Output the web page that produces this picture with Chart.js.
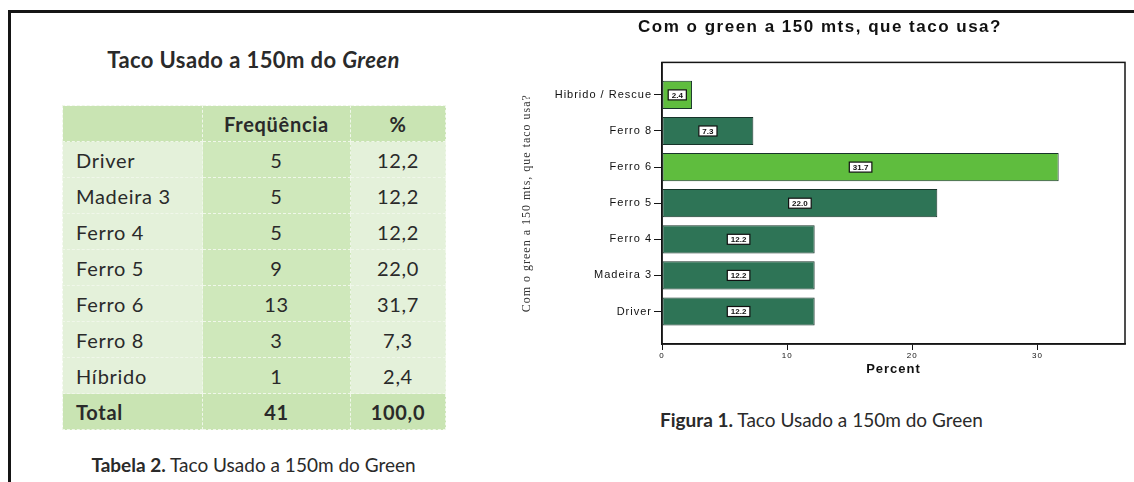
<!DOCTYPE html>
<html>
<head>
<meta charset="utf-8">
<script src="https://cdn.jsdelivr.net/npm/chart.js@4.4.1/dist/chart.umd.min.js"></script>
<style>
  body { margin: 0; width: 1134px; height: 482px; background: #fff; position: relative; overflow: hidden;
         font-family: Lato, "Open Sans", sans-serif; color: #2a2a2a; }
  #frame { position: absolute; left: 8px; top: 10px; right: 0; bottom: 0;
           border-top: 3px solid #151515; border-left: 3px solid #151515; }
  #tableTitle { position: absolute; left: 62px; width: 383px; top: 46px; text-align: center;
                font-size: 22px; font-weight: bold; line-height: 28px; letter-spacing: 0.4px; }
  table { position: absolute; left: 62px; top: 105px; width: 383px; border-collapse: collapse;
          font-size: 20px; letter-spacing: 0.7px; table-layout: fixed; }
  td { height: 35px; padding: 0; border: 1px dashed #f0f7ea; text-align: center; }
  td.lbl { text-align: left; padding-left: 13px; }
  tr.head td, tr.total td { background: #c9e4b3; font-weight: bold; }
  tr.row td { background: #e4f1da; }
  tr.row td.mid { background: #cfe8bb; }
  .caption { position: absolute; font-size: 19px; line-height: 24px; white-space: nowrap; }
  #chartBox { position: absolute; left: 515px; top: 0; width: 619px; height: 380px; }
</style>
</head>
<body>
<div id="frame"></div>
<div id="tableTitle">Taco Usado a 150m do <i>Green</i></div>
<table id="freqTable">
  <colgroup><col style="width:140px"><col style="width:148px"><col style="width:95px"></colgroup>
  <tbody></tbody>
</table>
<div class="caption" style="left:62px; width:383px; top:453px; text-align:center;"><b>Tabela 2.</b> Taco Usado a 150m do Green</div>
<div class="caption" style="left:660px; top:408px;"><b>Figura 1.</b> Taco Usado a 150m do Green</div>
<div id="chartBox"><canvas id="chart"></canvas></div>

<script>
const tableLabels = ["Driver", "Madeira 3", "Ferro 4", "Ferro 5", "Ferro 6", "Ferro 8", "Híbrido"];
const chartLabels = ["Driver", "Madeira 3", "Ferro 4", "Ferro 5", "Ferro 6", "Ferro 8", "Hibrido / Rescue"];
const frequencies = [5, 5, 5, 9, 13, 3, 1];
const percents = [12.2, 12.2, 12.2, 22.0, 31.7, 7.3, 2.4];
const totalFreq = 41;
const totalPct = 100.0;
const xTicks = [0, 10, 20, 30];

// table on the left
const fmt = (v) => v.toFixed(1).replace(".", ",");
const tbody = document.querySelector("#freqTable tbody");
let html = '<tr class="head"><td></td><td>Freqüência</td><td>%</td></tr>';
tableLabels.forEach((lbl, i) => {
  html += `<tr class="row"><td class="lbl">${lbl}</td><td class="mid">${frequencies[i]}</td><td>${fmt(percents[i])}</td></tr>`;
});
html += `<tr class="total"><td class="lbl">Total</td><td>${totalFreq}</td><td>${fmt(totalPct)}</td></tr>`;
tbody.innerHTML = html;

// chart on the right
const sans = "'Liberation Sans', Arial, sans-serif";

const spacing = {
  id: "spacing",
  afterInit(chart) {
    const tb = chart.titleBlock;
    const draw = tb.draw.bind(tb);
    tb.draw = (area) => {
      chart.ctx.save();
      chart.ctx.letterSpacing = "1.5px";
      draw(area);
      chart.ctx.restore();
    };
  },
  beforeDraw(chart) { chart.ctx.letterSpacing = "1px"; },
  afterDraw(chart) { chart.ctx.letterSpacing = "0px"; },
};

const plotBox = {
  id: "plotBox",
  beforeDatasetsDraw(chart) {
    const { ctx, chartArea: a } = chart;
    ctx.save();
    ctx.strokeStyle = "#151515";
    ctx.lineWidth = 1.5;
    ctx.strokeRect(a.left, a.top, a.right - a.left, a.bottom - a.top);
    ctx.restore();
  },
};

const valueBoxes = {
  id: "valueBoxes",
  afterDatasetsDraw(chart) {
    const ctx = chart.ctx;
    const meta = chart.getDatasetMeta(0);
    ctx.save();
    ctx.letterSpacing = "0px";
    ctx.font = "bold 8px " + sans;
    ctx.textAlign = "center";
    ctx.textBaseline = "middle";
    meta.data.forEach((bar, i) => {
      const txt = percents[i].toFixed(1);
      const cx = (bar.x + bar.base) / 2;
      const cy = bar.y;
      const w = ctx.measureText(txt).width + 7;
      const h = 10;
      ctx.fillStyle = "#fff";
      ctx.fillRect(cx - w / 2, cy - h / 2, w, h);
      ctx.strokeStyle = "#111";
      ctx.lineWidth = 1.2;
      ctx.strokeRect(cx - w / 2, cy - h / 2, w, h);
      ctx.fillStyle = "#111";
      ctx.fillText(txt, cx, cy + 0.5);
    });
    ctx.restore();
  },
};

new Chart(document.getElementById("chart"), {
  type: "bar",
  data: {
    datasets: [{
      data: chartLabels.map((l, i) => ({ x: percents[i], y: i })),
      backgroundColor: (c) => (c.dataIndex === 4 || c.dataIndex === 6) ? "#5fbd3e" : "#2e7456",
      borderColor: "#17342a",
      borderWidth: 1,
      borderSkipped: false,
      categoryPercentage: 1,
      barPercentage: 0.78,
    }],
  },
  options: {
    indexAxis: "y",
    responsive: true,
    maintainAspectRatio: false,
    animation: false,
    layout: { padding: { left: 0, right: 9, top: 0, bottom: 0 } },
    plugins: {
      legend: { display: false },
      tooltip: { enabled: false },
      title: {
        display: true,
        text: "Com o green a 150 mts, que taco usa?",
        color: "#111",
        font: { family: sans, size: 17, weight: "bold" },
        padding: { top: 17, bottom: 25 },
      },
    },
    scales: {
      x: {
        type: "linear",
        min: 0,
        max: 37,
        afterBuildTicks: (s) => { s.ticks = xTicks.map((v) => ({ value: v })); },
        afterFit: (s) => { s.height = 36; },
        grid: { drawOnChartArea: false, drawTicks: true, tickLength: 6, color: "#151515" },
        border: { color: "#151515", width: 1.5 },
        ticks: { color: "#111", font: { family: sans, size: 8 }, padding: 1, maxRotation: 0 },
        title: {
          display: true,
          text: "Percent",
          color: "#111",
          font: { family: sans, size: 13, weight: "bold" },
          padding: { top: 0, bottom: 3 },
        },
      },
      y: {
        type: "linear",
        offset: false,
        min: -0.9,
        max: 6.9,
        afterBuildTicks: (s) => { s.ticks = chartLabels.map((l, i) => ({ value: i })); },
        afterFit: (s) => { s.width = 147; },
        grid: { offset: false, drawOnChartArea: false, drawTicks: true, tickLength: 8, color: "#151515" },
        border: { color: "#151515", width: 1.5 },
        ticks: { color: "#111", font: { family: sans, size: 11 }, padding: 2, callback: (v) => chartLabels[v] },
        title: {
          display: true,
          text: "Com o green a 150 mts, que taco usa?",
          color: "#333",
          font: { family: "'Liberation Serif', 'Times New Roman', serif", size: 12 },
          padding: { top: 5, bottom: 0 },
        },
      },
    },
  },
  plugins: [spacing, plotBox, valueBoxes],
});
</script>
</body>
</html>
